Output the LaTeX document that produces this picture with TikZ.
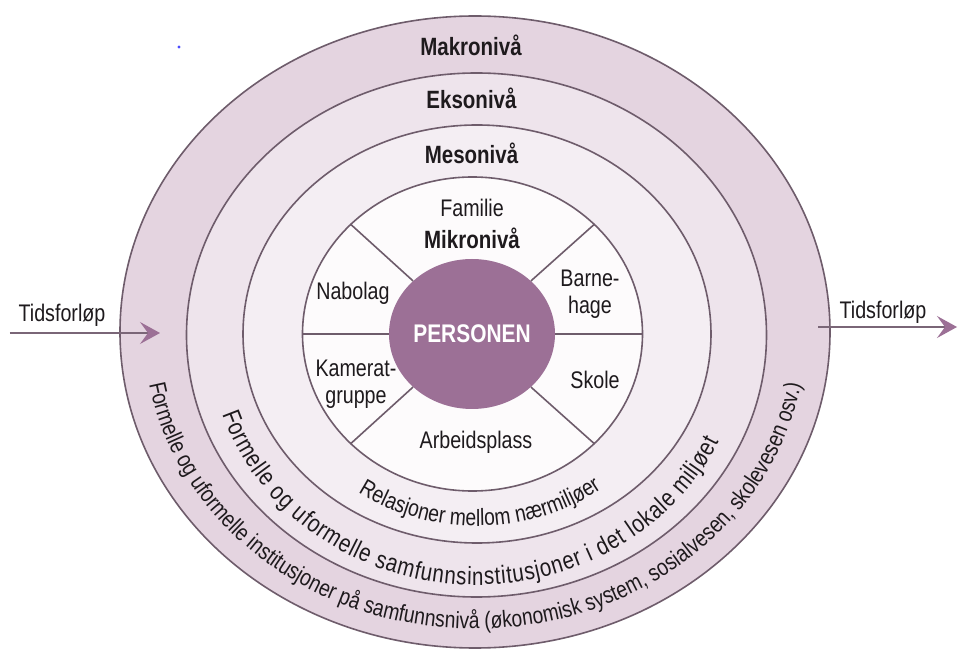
\documentclass[tikz,border=0pt]{standalone}
\usepackage{fontspec}
\IfFontExistsTF{Liberation Sans Narrow}{\setmainfont{Liberation Sans Narrow}}{\setmainfont[FakeStretch=0.82]{Liberation Sans}}
\usetikzlibrary{shapes.geometric,decorations.text,arrows.meta}
\definecolor{bandA}{HTML}{E4D4E0}
\definecolor{bandB}{HTML}{EEE4EC}
\definecolor{bandC}{HTML}{F4EEF3}
\definecolor{bandD}{HTML}{FDFBFC}
\definecolor{mauve}{HTML}{9C7096}
\definecolor{edge}{HTML}{6E5C6B}
\definecolor{ink}{HTML}{1E1A1D}
\definecolor{arrowline}{HTML}{7A6677}
\newcommand{\curvefont}{\fontsize{23.5}{26}\selectfont}
\newcommand{\curvefontmid}{\fontsize{25}{28}\selectfont}
\begin{document}
\begin{tikzpicture}[x=1pt,y=1pt,
  ring/.style={ellipse, draw=edge, line width=1.6pt, inner sep=0pt},
  spoke/.style={draw=edge, line width=1.6pt},
  lvl/.style={font=\fontsize{25}{28}\selectfont\bfseries, text=ink, inner sep=0pt},
  lbl/.style={font=\fontsize{24}{27}\selectfont, text=ink, inner sep=0pt, align=center},
  timearrow/.style={draw=arrowline, line width=1.4pt, -{Stealth[length=20pt,width=22pt,inset=8pt,fill=mauve,color=mauve]}},
  curvetext/.style={decorate, decoration={text along path, text align=center, text color=ink}}
]
\useasboundingbox (-475,-322) rectangle (485,333);
\fill[white] (-475,-322) rectangle (485,333);

% rings
\node[ring, fill=bandA, minimum width=710pt, minimum height=632pt] (makro) at (0,1) {};
\node[ring, fill=bandB, minimum width=580pt, minimum height=524pt] (ekso) at (1.5,-2) {};
\node[ring, fill=bandC, minimum width=468pt, minimum height=418pt] (meso) at (2,-1) {};
\node[ring, fill=bandD, minimum width=340pt, minimum height=314pt] (mikro) at (-2.5,-1) {};
\node[ellipse, fill=mauve, inner sep=0pt, minimum width=166pt, minimum height=150pt,
      font=\fontsize{25.5}{28}\selectfont\bfseries, text=white] (personen) at (-3,-1) {PERSONEN};

% spokes
\foreach \a in {0,42,138,180,222,318}{
  \draw[spoke] (personen.\a) -- (mikro.\a);
}

% level titles
\node[lvl] (tmakro) at (-4,288) {Makronivå};
\node[lvl] (tekso) at (-3.5,235) {Eksonivå};
\node[lvl] (tmeso) at (-3.5,180) {Mesonivå};
\node[lvl] (tmikro) at (-3,95) {Mikronivå};

% micro labels
\node[lbl] (familie) at (-3,125) {Familie};
\node[lbl] (nabolag) at (-122,40) {Nabolag};
\node[lbl] (barnehage) at (115,39) {Barne-\\hage};
\node[lbl] (kamerat) at (-119,-51) {Kamerat-\\gruppe};
\node[lbl] (skole) at (120,-47) {Skole};
\node[lbl] (arbeid) at (1,-109) {Arbeidsplass};

% curved texts
\path[curvetext, shift={(2,-1)}, decoration={text={|\curvefont|Relasjoner mellom nærmiljøer}}]
  (180:210 and 192) arc[start angle=180, end angle=362, x radius=210, y radius=192];
\path[decorate, shift={(1.5,-2)},
  decoration={text effects along path,
    text={Formelle og uformelle samfunnsinstitusjoner i det lokale miljøet},
    text align=center,
    text effects/.cd,
      text along path,
      characters={text=ink, font=\curvefontmid, inner sep=0pt},
      character widths={inner xsep=0.4pt, font=\curvefontmid}}]
  (180:268 and 250) arc[start angle=180, end angle=353, x radius=268, y radius=250];
\path[curvetext, shift={(0,1)}, decoration={text={|\curvefont|Formelle og uformelle institusjoner på samfunnsnivå (økonomisk system, sosialvesen, skolevesen osv.)}}]
  (180:331 and 297) arc[start angle=180, end angle=360, x radius=331, y radius=297];

% time arrows
\coordinate (lstart) at (-465,0);
\coordinate (lend) at (-315,0);
\draw[timearrow] (lstart) -- (lend);
\node[lbl] (tidl) at (-413,18) {Tidsforløp};
\coordinate (rstart) at (343,6);
\coordinate (rend) at (482,6);
\draw[timearrow] (rstart) -- (rend);
\node[lbl] (tidr) at (408,21) {Tidsforløp};

% small blue speck
\fill[blue!70] (-296,286) circle (1.6);
\end{tikzpicture}
\end{document}
